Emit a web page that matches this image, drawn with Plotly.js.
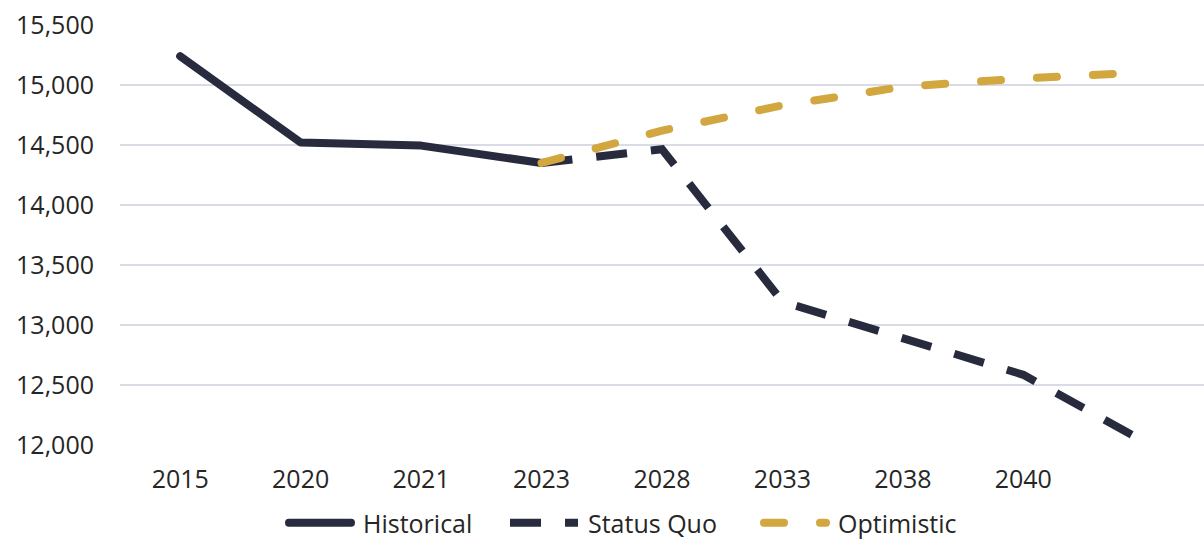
<!DOCTYPE html>
<html>
<head>
<meta charset="utf-8">
<script src="https://cdn.plot.ly/plotly-3.0.1.min.js"></script>
<style>
  html, body { margin: 0; padding: 0; background: #ffffff; }
  #chart { width: 1204px; height: 546px; }
</style>
</head>
<body>
<div id="chart"></div>
<script>
// Category labels (the last category has no printed label)
const categories = ["2015", "2020", "2021", "2023", "2028", "2033", "2038", "2040", ""];

// Series values (null = no value for that category)
const historical = [15240, 14520, 14495, 14350, null, null, null, null, null];
const statusQuo  = [null, null, null, 14350, 14465, 13195, 12885, 12585, 12030];
const optimistic = [null, null, null, 14350, 14620, 14830, 14985, 15055, 15105];

const yTicks = [12000, 12500, 13000, 13500, 14000, 14500, 15000, 15500];

const xIdx = categories.map((_, i) => i);
const navy = "#272b3d";
const gold = "#d2a73f";
const fontFam = "'Open Sans', Lato, sans-serif";
const textColor = "#262626";
const fs = 25;

const traces = [
  { x: xIdx, y: historical, name: "Historical", mode: "lines", type: "scatter", legend: "legend",
    line: { color: navy, width: 8 }, connectgaps: false, hoverinfo: "skip" },
  { x: xIdx, y: statusQuo, name: "Status Quo", mode: "lines", type: "scatter", legend: "legend2",
    line: { color: navy, width: 8, dash: "31px,24px" }, connectgaps: false, hoverinfo: "skip" },
  { x: xIdx, y: optimistic, name: "Optimistic", mode: "lines", type: "scatter", legend: "legend3",
    line: { color: gold, width: 8, dash: "20px,36px" }, connectgaps: false, hoverinfo: "skip" }
];

function leg(px) {
  return {
    orientation: "h", xref: "container", yref: "container",
    x: px / 1204, xanchor: "left", y: 0, yanchor: "bottom",
    font: { family: fontFam, size: 25, color: textColor },
    itemwidth: 70, bgcolor: "rgba(0,0,0,0)"
  };
}

const layout = {
  width: 1204, height: 546,
  margin: { l: 120, r: 0, t: 25, b: 101, pad: 0, autoexpand: false },
  paper_bgcolor: "#ffffff", plot_bgcolor: "#ffffff",
  font: { family: fontFam, size: fs, color: textColor },
  showlegend: true,
  legend: leg(283),
  legend2: leg(508),
  legend3: leg(758),
  xaxis: {
    type: "linear", range: [-0.5, 8.5],
    tickmode: "array", tickvals: xIdx, ticktext: categories,
    showgrid: false, zeroline: false, showline: false, ticks: "",
    ticklabelstandoff: 17, fixedrange: true
  },
  yaxis: {
    range: [12000, 15500], tickmode: "array", tickvals: yTicks,
    tickformat: ",d", showgrid: true, gridcolor: "#d9dbe5", gridwidth: 2,
    zeroline: false, showline: false, ticks: "", ticklabelstandoff: 25, fixedrange: true
  }
};

Plotly.newPlot("chart", traces, layout, { displayModeBar: false, staticPlot: true }).then(function (gd) {
  // Rounded caps for the solid and gold dashed lines
  const paths = gd.querySelectorAll(".scatterlayer .trace .js-line");
  if (paths[0]) { paths[0].style.strokeLinecap = "round"; paths[0].style.strokeLinejoin = "round"; }
  if (paths[2]) { paths[2].style.strokeLinecap = "round"; }
  // Longer legend symbols
  gd.querySelectorAll(".legendlines path").forEach(function (p) {
    const dash = p.style.strokeDasharray || "";
    if (dash.indexOf("31") === 0) { p.setAttribute("d", "M2,0h68"); }
    else { p.setAttribute("d", "M6,0h62"); p.style.strokeLinecap = "round"; }
  });
});
</script>
</body>
</html>
